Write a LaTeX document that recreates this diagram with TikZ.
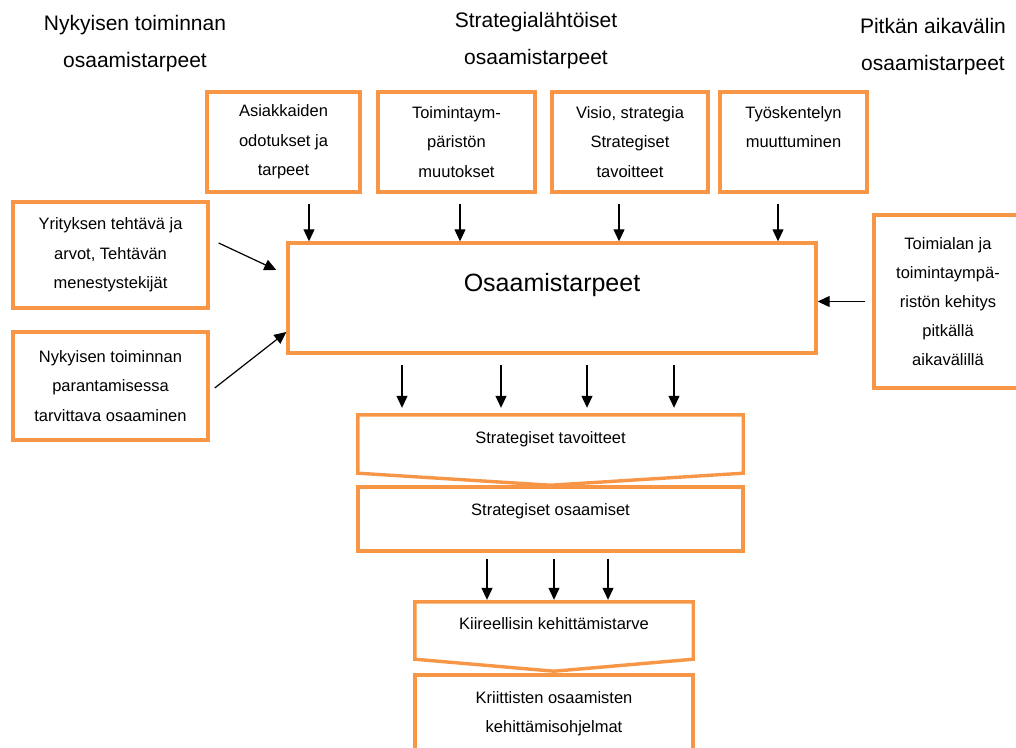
\documentclass[tikz,border=0pt]{standalone}
\usepackage{fontspec}
\setmainfont{Liberation Sans}
\usetikzlibrary{arrows.meta}
\definecolor{boxorange}{HTML}{F79646}
\tikzset{
	oline/.style={draw=boxorange,line width=3.4pt},
	obox/.style={oline,inner sep=0pt,align=center,font=\fontsize{16.5}{29.5}\selectfont},
	ptext/.style={inner sep=0pt,align=center,font=\fontsize{16.5}{29.5}\selectfont,text height=12pt,text depth=#1},
	head/.style={inner sep=0pt,align=center,font=\fontsize{21}{37}\selectfont},
	arr/.style={-{Triangle[length=12pt,width=11pt]},line width=1.2pt}
}
\begin{document}
\begin{tikzpicture}[x=1pt,y=-1pt]
		\useasboundingbox (0,0) rectangle (1016,747);
		\node[head] (hnyk) at (135,43.5) {Nykyisen toiminnan\\osaamistarpeet};
		\node[head] (hstr) at (536,41) {Strategialähtöiset\\osaamistarpeet};
		\node[head] (hpit) at (933,46.5) {Pitkän aikavälin\\osaamistarpeet};
		\node[obox,minimum width=153pt,minimum height=100pt] (asi) at (283.5,142) {Asiakkaiden\\odotukset ja\\tarpeet};
		\node[obox,minimum width=157pt,minimum height=100pt] (toi) at (456.5,142) {Toimintaym-\\päristön\\muutokset};
		\node[obox,minimum width=156pt,minimum height=100pt] (vis) at (630,142) {Visio, strategia\\Strategiset\\tavoitteet};
		\node[obox,minimum width=147pt,minimum height=100pt] (tyo) at (793.5,142) {Työskentelyn\\muuttuminen\\\mbox{}};
		\node[obox,minimum width=195pt,minimum height=106pt] (yr) at (110.5,255) {Yrityksen tehtävä ja\\arvot, Tehtävän\\menestystekijät};
		\node[obox,minimum width=195pt,minimum height=108pt] (ny) at (110.5,386) {Nykyisen toiminnan\\parantamisessa\\tarvittava osaaminen};
		\node[obox,minimum width=148pt,minimum height=173pt,font=\fontsize{16.5}{29}\selectfont] (rt) at (948,301.5) {Toimialan ja\\toimintaympä-\\ristön kehitys\\pitkällä\\aikavälillä};
		\node[obox,minimum width=528pt,minimum height=110pt,font=\fontsize{25}{30}\selectfont,text height=18pt,text depth=32pt] (main) at (552,298) {Osaamistarpeet};
		\node[ptext=14pt,minimum width=385pt,minimum height=58pt] (st) at (550.5,444) {Strategiset tavoitteet};
		\draw[oline] (st.north west) -- (st.north east) -- (st.south east) -- ([yshift=-12pt]st.south) -- (st.south west) -- cycle;
		\node[obox,ptext=20pt,minimum width=385pt,minimum height=64pt] (so) at (550.5,519) {Strategiset osaamiset};
		\node[ptext=14pt,minimum width=278pt,minimum height=57pt] (ki) at (554,630.5) {Kiireellisin kehittämistarve};
		\draw[oline] (ki.north west) -- (ki.north east) -- (ki.south east) -- ([yshift=-12pt]ki.south) -- (ki.south west) -- cycle;
		\node[obox,minimum width=278pt,minimum height=77pt] (kr) at (554,713.5) {Kriittisten osaamisten\\kehittämisohjelmat};
		\foreach \x/\b in {309/asi,460/toi,619/vis,778/tyo}
			\draw[arr,shorten <=10pt] (\b.south -| \x,0) -- (main.north -| \x,0);
		\draw[arr] ([shift={(9,-12)}]yr.east) -- ([shift={(-10,-28)}]main.west);
		\draw[arr] ([shift={(5,2)}]ny.east) -- ([shift={(0,34)}]main.west);
		\draw[arr,shorten <=7pt] (rt.west) -- (main.east |- rt.west);
		\foreach \x in {402,501,587,674}
			\draw[arr,shorten <=10pt,shorten >=7pt] (main.south -| \x,0) -- (st.north -| \x,0);
		\foreach \x in {487,554,608}
			\draw[arr,shorten <=6pt,shorten >=2pt] (so.south -| \x,0) -- (ki.north -| \x,0);
\end{tikzpicture}
\end{document}
